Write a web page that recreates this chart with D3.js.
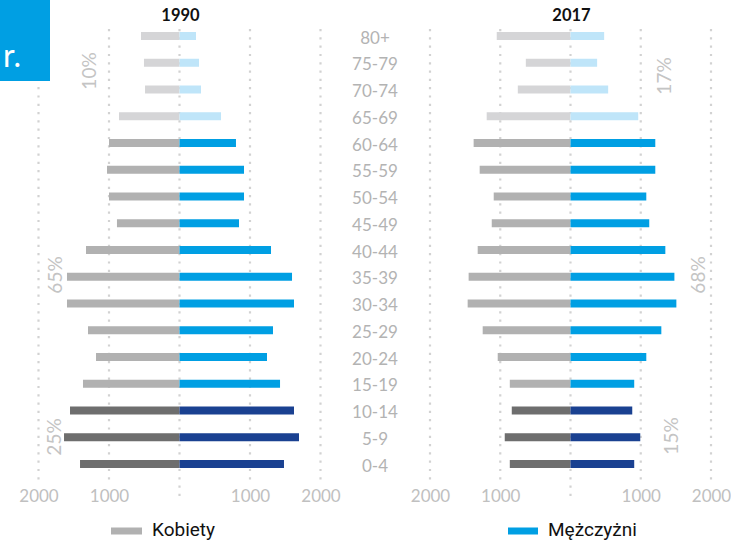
<!DOCTYPE html>
<html>
<head>
<meta charset="utf-8">
<script src="https://cdn.jsdelivr.net/npm/d3@7"></script>
<style>
  html, body { margin: 0; padding: 0; background: #fff; }
  svg { display: block; }
</style>
</head>
<body>
<svg id="chart" width="731" height="540"></svg>
<script>
// ---------- DATA ----------
const ageGroups = ["80+","75-79","70-74","65-69","60-64","55-59","50-54","45-49","40-44","35-39","30-34","25-29","20-24","15-19","10-14","5-9","0-4"];
const women1990 = [546, 504, 489, 858, 1000, 1028, 1000, 887, 1326, 1596, 1596, 1298, 1184, 1369, 1553, 1638, 1411];
const men1990   = [234, 277, 305, 589, 801, 915, 915, 844, 1298, 1596, 1624, 1326, 1241, 1426, 1624, 1695, 1482];
const women2017 = [1050, 636, 750, 1193, 1379, 1293, 1093, 1121, 1321, 1450, 1464, 1250, 1036, 864, 836, 936, 864];
const men2017   = [479, 379, 536, 964, 1207, 1207, 1079, 1121, 1350, 1479, 1507, 1293, 1079, 907, 879, 993, 907];
const years = ["1990", "2017"];
const tickValues = [-2000, -1000, 0, 1000, 2000];
const shares1990 = ["10%", "65%", "25%"];
const shares2017 = ["17%", "68%", "15%"];
const legendLabels = ["Kobiety", "Mężczyżni"];

// ---------- STYLE ----------
const colW = { old: "#d5d5d7", work: "#b1b1b1", young: "#6e6e6e" };
const colM = { old: "#bfe5f9", work: "#009fe3", young: "#1a4191" };
const group = i => i <= 3 ? "old" : (i <= 13 ? "work" : "young");

const svg = d3.select("#chart");

const y = d3.scalePoint().domain(ageGroups).range([36, 464]);
const barH = 8;

const panels = [
  { year: years[0], women: women1990, men: men1990, range: [38.5, 320.5], shares: shares1990,
    sharePos: [[88, 71], [54, 275], [53, 437]] },
  { year: years[1], women: women2017, men: men2017, range: [430, 711], shares: shares2017,
    sharePos: [[663, 76], [697, 275], [670, 436]] }
];

panels.forEach(p => {
  const x = d3.scaleLinear().domain([-2000, 2000]).range(p.range);
  const g = svg.append("g");

  // dotted gridlines
  g.selectAll("line.grid").data(tickValues).join("line")
    .attr("class", "grid")
    .attr("x1", d => x(d)).attr("x2", d => x(d))
    .attr("y1", 29).attr("y2", d => d === 0 ? 497 : 484)
    .attr("stroke", "#d2d2d2").attr("stroke-width", 2.2)
    .attr("stroke-dasharray", "2.2 6.1");

  // women bars (left)
  g.selectAll("rect.w").data(p.women).join("rect")
    .attr("class", "w")
    .attr("x", d => x(-d)).attr("width", d => x(0) - x(-d))
    .attr("y", (d, i) => y(ageGroups[i]) - barH / 2).attr("height", barH)
    .attr("fill", (d, i) => colW[group(i)]);

  // men bars (right)
  g.selectAll("rect.m").data(p.men).join("rect")
    .attr("class", "m")
    .attr("x", x(0)).attr("width", d => x(d) - x(0))
    .attr("y", (d, i) => y(ageGroups[i]) - barH / 2).attr("height", barH)
    .attr("fill", (d, i) => colM[group(i)]);

  // axis
  const axis = d3.axisBottom(x).tickValues(tickValues)
    .tickFormat(d => d === 0 ? "" : Math.abs(d)).tickSize(0).tickPadding(0);
  const ag = g.append("g").attr("transform", "translate(0,490)").call(axis);
  ag.select(".domain").remove();
  ag.selectAll("text")
    .attr("dy", "0.72em")
    .attr("font-family", "Lato, 'DejaVu Sans', sans-serif")
    .attr("font-size", 17).attr("fill", "#c0c0c0");

  // title
  g.append("text")
    .attr("x", x(0) + 1).attr("y", 21)
    .attr("text-anchor", "middle")
    .attr("font-family", "Lato, 'DejaVu Sans', sans-serif")
    .attr("font-weight", 700).attr("font-size", 16.5)
    .attr("fill", "#111")
    .text(p.year);

  // share labels
  p.shares.forEach((s, k) => {
    const [cx, cy] = p.sharePos[k];
    g.append("text")
      .attr("transform", `translate(${cx},${cy}) rotate(-90)`)
      .attr("text-anchor", "middle").attr("dominant-baseline", "central")
      .attr("font-family", "Lato, 'DejaVu Sans', sans-serif")
      .attr("font-size", 19).attr("fill", "#c4c4c4")
      .text(s);
  });
});

// age labels in the middle
svg.append("g").selectAll("text").data(ageGroups).join("text")
  .attr("x", 375).attr("y", d => y(d) + 1)
  .attr("text-anchor", "middle").attr("dominant-baseline", "central")
  .attr("font-family", "Lato, 'DejaVu Sans', sans-serif")
  .attr("font-size", 17).attr("fill", "#b3b3b3")
  .text(d => d);

// blue tab in the top-left corner
svg.append("rect").attr("x", 0).attr("y", 0).attr("width", 50).attr("height", 81).attr("fill", "#009fe3");
svg.append("text").attr("x", 3).attr("y", 67)
  .attr("font-family", "Lato, 'DejaVu Sans', sans-serif")
  .attr("font-size", 32).attr("fill", "#fff")
  .text("r.");

// legend
const legend = [
  { label: legendLabels[0], color: colW.work, sx: 111, sw: 31, tx: 152 },
  { label: legendLabels[1], color: colM.work, sx: 508, sw: 30, tx: 548 }
];
const lg = svg.append("g").selectAll("g").data(legend).join("g");
lg.append("rect").attr("x", d => d.sx).attr("y", 527.5).attr("width", d => d.sw).attr("height", 7)
  .attr("fill", d => d.color);
lg.append("text").attr("x", d => d.tx).attr("y", 536)
  .attr("font-family", "Roboto, 'Liberation Sans', sans-serif")
  .attr("font-size", 19).attr("fill", "#111")
  .text(d => d.label);
</script>
</body>
</html>
